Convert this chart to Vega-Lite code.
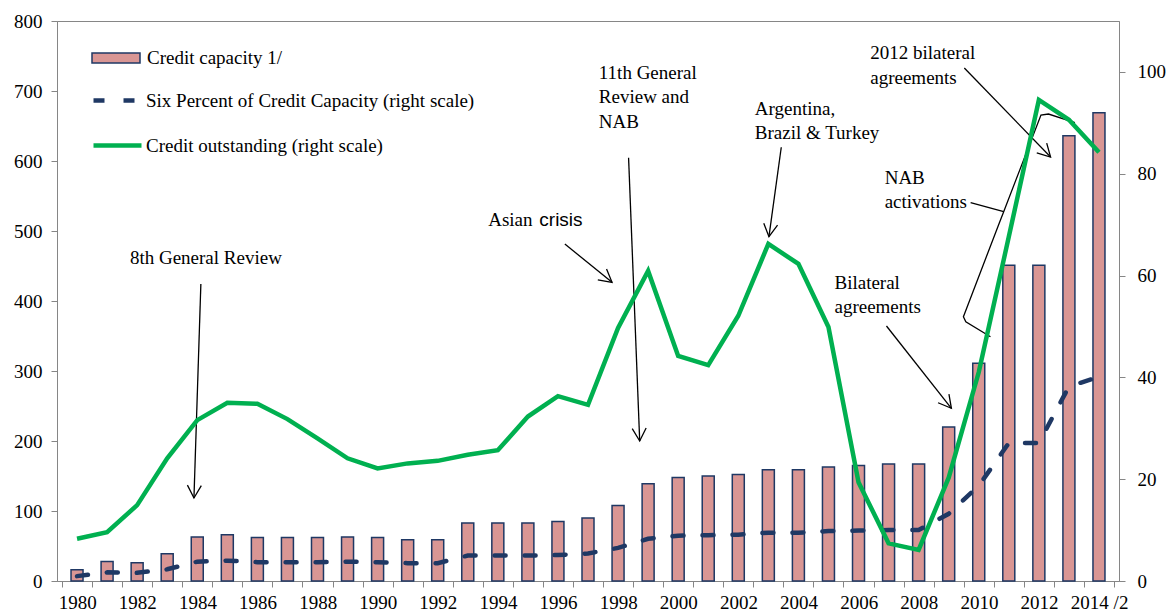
{
  "$schema": "https://vega.github.io/schema/vega-lite/v6.json",
  "width": 1062,
  "height": 560,
  "autosize": {"type": "none"},
  "padding": {"left": 57, "top": 21, "right": 49, "bottom": 35},
  "background": "white",
  "config": {
    "view": {"stroke": "#868686", "strokeWidth": 1},
    "font": "Liberation Serif",
    "axis": {
      "domainColor": "#868686",
      "tickColor": "#868686",
      "labelColor": "#000000",
      "labelFont": "Liberation Serif",
      "labelFontSize": 19,
      "tickSize": 6,
      "grid": false,
      "title": null
    },
    "legend": {
      "padding": 0,
      "symbolSize": 400,
      "labelFont": "Liberation Serif",
      "labelFontSize": 19,
      "labelColor": "#000000",
      "labelLimit": 600,
      "labelOffset": 20,
      "labelBaseline": "middle",
      "symbolOpacity": 1
    }
  },
  "data": {
    "values": [
      {"year": 1980, "capacity": 16, "six": 0.96, "outstanding": 8.3},
      {"year": 1981, "capacity": 28, "six": 1.7, "outstanding": 9.6},
      {"year": 1982, "capacity": 26, "six": 1.6, "outstanding": 14.9},
      {"year": 1983, "capacity": 39, "six": 2.3, "outstanding": 24.1},
      {"year": 1984, "capacity": 63, "six": 3.8, "outstanding": 31.6},
      {"year": 1985, "capacity": 66, "six": 4.0, "outstanding": 35.0},
      {"year": 1986, "capacity": 62, "six": 3.7, "outstanding": 34.8},
      {"year": 1987, "capacity": 62, "six": 3.7, "outstanding": 31.8},
      {"year": 1988, "capacity": 62, "six": 3.7, "outstanding": 28.0},
      {"year": 1989, "capacity": 63, "six": 3.8, "outstanding": 24.1},
      {"year": 1990, "capacity": 62, "six": 3.7, "outstanding": 22.1},
      {"year": 1991, "capacity": 59, "six": 3.5, "outstanding": 23.1},
      {"year": 1992, "capacity": 59, "six": 3.5, "outstanding": 23.6},
      {"year": 1993, "capacity": 83, "six": 5.0, "outstanding": 24.8},
      {"year": 1994, "capacity": 83, "six": 5.0, "outstanding": 25.7},
      {"year": 1995, "capacity": 83, "six": 5.0, "outstanding": 32.3},
      {"year": 1996, "capacity": 85, "six": 5.1, "outstanding": 36.3},
      {"year": 1997, "capacity": 90, "six": 5.4, "outstanding": 34.6},
      {"year": 1998, "capacity": 108, "six": 6.5, "outstanding": 49.7},
      {"year": 1999, "capacity": 139, "six": 8.3, "outstanding": 60.9},
      {"year": 2000, "capacity": 148, "six": 8.9, "outstanding": 44.2},
      {"year": 2001, "capacity": 150, "six": 9.0, "outstanding": 42.4},
      {"year": 2002, "capacity": 152, "six": 9.1, "outstanding": 52.1},
      {"year": 2003, "capacity": 159, "six": 9.5, "outstanding": 66.2},
      {"year": 2004, "capacity": 159, "six": 9.5, "outstanding": 62.3},
      {"year": 2005, "capacity": 163, "six": 9.8, "outstanding": 49.9},
      {"year": 2006, "capacity": 165, "six": 9.9, "outstanding": 19.4},
      {"year": 2007, "capacity": 167, "six": 10.0, "outstanding": 7.4},
      {"year": 2008, "capacity": 167, "six": 10.0, "outstanding": 6.1},
      {"year": 2009, "capacity": 220, "six": 13.2, "outstanding": 20.3},
      {"year": 2010, "capacity": 311, "six": 18.7, "outstanding": 41.0},
      {"year": 2011, "capacity": 451, "six": 27.1, "outstanding": 67.6},
      {"year": 2012, "capacity": 451, "six": 27.1, "outstanding": 94.5},
      {"year": 2013, "capacity": 636, "six": 38.2, "outstanding": 90.6},
      {"year": 2014, "capacity": 669, "six": 40.1, "outstanding": 84.2}
    ]
  },
  "encoding": {
    "x": {
      "field": "year",
      "type": "quantitative",
      "title": null,
      "scale": {"domain": [1979.5, 2014.5], "nice": false, "zero": false},
      "axis": {
        "values": [1979.5, 1980.5, 1981.5, 1982.5, 1983.5, 1984.5, 1985.5, 1986.5, 1987.5, 1988.5, 1989.5, 1990.5, 1991.5, 1992.5, 1993.5, 1994.5, 1995.5, 1996.5, 1997.5, 1998.5, 1999.5, 2000.5, 2001.5, 2002.5, 2003.5, 2004.5, 2005.5, 2006.5, 2007.5, 2008.5, 2009.5, 2010.5, 2011.5, 2012.5, 2013.5, 2014.5],
        "labelExpr": "(datum.value + 0.5) % 2 == 0 ? ((datum.value + 0.5) == 2014 ? '2014 /2' : '' + (datum.value + 0.5)) : ''",
        "labelOffset": 15.17,
        "labelPadding": 6,
        "labelFlush": false,
        "labelOverlap": false,
        "labelBound": false
      }
    }
  },
  "layer": [
    {
      "layer": [
        {
          "mark": {"type": "bar", "width": 12, "stroke": "#1F3864", "strokeWidth": 1.5},
          "encoding": {
            "y": {
              "field": "capacity",
              "type": "quantitative",
              "title": null,
              "scale": {"domain": [0, 800], "nice": false},
              "axis": {"values": [0, 100, 200, 300, 400, 500, 600, 700, 800], "labelPadding": 9}
            },
            "fill": {
              "datum": "Credit capacity 1/",
              "scale": {"range": ["#D99694"]},
              "legend": {
                "title": null,
                "orient": "none",
                "legendX": 48,
                "legendY": 26,
                "symbolType": "M-2.4,-0.5L2.4,-0.5L2.4,0.5L-2.4,0.5Z",
                "symbolStrokeColor": "#1F3864",
                "symbolStrokeWidth": 1.5
              }
            }
          }
        },
        {
          "data": {
            "values": [
              {"year": 1984.12, "value": 424.3, "year2": 1983.89, "value2": 118.6},
              {"year": 1996.23, "value": 481.4, "year2": 1997.8, "value2": 426.7},
              {"year": 1998.35, "value": 604.7, "year2": 1998.72, "value2": 200},
              {"year": 2003.43, "value": 619.6, "year2": 2003.02, "value2": 491.9},
              {"year": 2009.52, "value": 732.9, "year2": 2012.39, "value2": 605.7},
              {"year": 2006.93, "value": 364.3, "year2": 2009.09, "value2": 246.7}
            ]
          },
          "mark": {"type": "rule", "color": "#000000", "strokeWidth": 1.3},
          "encoding": {
            "y": {"field": "value", "type": "quantitative", "title": null},
            "x2": {"field": "year2"},
            "y2": {"field": "value2"}
          }
        },
        {
          "data": {
            "values": [
              {"part": "brace", "i": 1, "year": 2013.2, "value": 654.7},
              {"part": "brace", "i": 2, "year": 2012.32, "value": 667.1},
              {"part": "brace", "i": 3, "year": 2012.07, "value": 665.7},
              {"part": "brace", "i": 4, "year": 2010.83, "value": 527.6},
              {"part": "brace", "i": 5, "year": 2010.7, "value": 513.3},
              {"part": "brace", "i": 6, "year": 2009.49, "value": 377.6},
              {"part": "brace", "i": 7, "year": 2009.57, "value": 370.4},
              {"part": "brace", "i": 8, "year": 2010.39, "value": 349.0},
              {"part": "link", "i": 1, "year": 2009.73, "value": 540.4},
              {"part": "link", "i": 2, "year": 2010.83, "value": 527.6}
            ]
          },
          "mark": {"type": "line", "color": "#000000", "strokeWidth": 1.3},
          "encoding": {
            "y": {"field": "value", "type": "quantitative", "title": null},
            "detail": {"field": "part"},
            "order": {"field": "i"}
          }
        },
        {
          "data": {"values": [{"year": 1983.89, "value": 118.6}]},
          "mark": {"type": "point", "shape": "M-1,-0.55L0,0L-1,0.55", "filled": false, "size": 640, "stroke": "#000000", "strokeWidth": 1.3, "opacity": 1, "angle": 91.9},
          "encoding": {"y": {"field": "value", "type": "quantitative", "title": null}}
        },
        {
          "data": {"values": [{"year": 1997.8, "value": 426.7}]},
          "mark": {"type": "point", "shape": "M-1,-0.55L0,0L-1,0.55", "filled": false, "size": 640, "stroke": "#000000", "strokeWidth": 1.3, "opacity": 1, "angle": 38.8},
          "encoding": {"y": {"field": "value", "type": "quantitative", "title": null}}
        },
        {
          "data": {"values": [{"year": 1998.72, "value": 200}]},
          "mark": {"type": "point", "shape": "M-1,-0.55L0,0L-1,0.55", "filled": false, "size": 640, "stroke": "#000000", "strokeWidth": 1.3, "opacity": 1, "angle": 87.7},
          "encoding": {"y": {"field": "value", "type": "quantitative", "title": null}}
        },
        {
          "data": {"values": [{"year": 2003.02, "value": 491.9}]},
          "mark": {"type": "point", "shape": "M-1,-0.55L0,0L-1,0.55", "filled": false, "size": 640, "stroke": "#000000", "strokeWidth": 1.3, "opacity": 1, "angle": 97.8},
          "encoding": {"y": {"field": "value", "type": "quantitative", "title": null}}
        },
        {
          "data": {"values": [{"year": 2012.39, "value": 605.7}]},
          "mark": {"type": "point", "shape": "M-1,-0.55L0,0L-1,0.55", "filled": false, "size": 640, "stroke": "#000000", "strokeWidth": 1.3, "opacity": 1, "angle": 45.6},
          "encoding": {"y": {"field": "value", "type": "quantitative", "title": null}}
        },
        {
          "data": {"values": [{"year": 2009.09, "value": 246.7}]},
          "mark": {"type": "point", "shape": "M-1,-0.55L0,0L-1,0.55", "filled": false, "size": 640, "stroke": "#000000", "strokeWidth": 1.3, "opacity": 1, "angle": 51.4},
          "encoding": {"y": {"field": "value", "type": "quantitative", "title": null}}
        },
        {
          "data": {
            "values": [
              {"year": 1981.76, "value": 474.7, "label": "8th General Review"},
              {"year": 1993.68, "value": 528.1, "label": "Asian"},
              {"year": 1997.36, "value": 739.0, "label": "11th General\nReview and\nNAB"},
              {"year": 2002.55, "value": 687.8, "label": "Argentina,\nBrazil & Turkey"},
              {"year": 2006.39, "value": 767.1, "label": "2012 bilateral\nagreements"},
              {"year": 2006.87, "value": 589.0, "label": "NAB\nactivations"},
              {"year": 2005.2, "value": 439.0, "label": "Bilateral\nagreements"}
            ]
          },
          "mark": {"type": "text", "align": "left", "baseline": "top", "font": "Liberation Serif", "fontSize": 19, "lineHeight": 24.5, "lineBreak": "\n", "color": "#000000"},
          "encoding": {
            "y": {"field": "value", "type": "quantitative", "title": null},
            "text": {"field": "label"}
          }
        },
        {
          "data": {"values": [{"year": 1995.38, "value": 528.1, "label": "crisis"}]},
          "mark": {"type": "text", "align": "left", "baseline": "top", "font": "Liberation Sans", "fontSize": 19, "color": "#000000"},
          "encoding": {
            "y": {"field": "value", "type": "quantitative", "title": null},
            "text": {"field": "label"}
          }
        }
      ]
    },
    {
      "layer": [
        {
          "mark": {"type": "line", "strokeWidth": 4.5, "stroke": "#1F3864", "strokeCap": "round"},
          "encoding": {
            "y": {
              "field": "six",
              "type": "quantitative",
              "title": null,
              "scale": {"domain": [0, 110], "nice": false},
              "axis": {"orient": "right", "values": [0, 20, 40, 60, 80, 100], "labelPadding": 12}
            },
            "strokeDash": {
              "datum": "Six Percent of Credit Capacity (right scale)",
              "scale": {"range": [[11, 19]]},
              "legend": {
                "title": null,
                "orient": "none",
                "legendX": 48,
                "legendY": 67,
                "labelOffset": 16,
                "symbolType": "M-2.4,0L2.4,0",
                "symbolStrokeColor": "#1F3864",
                "symbolStrokeWidth": 4.5
              }
            }
          }
        },
        {
          "mark": {"type": "line", "strokeWidth": 4.5},
          "encoding": {
            "y": {"field": "outstanding", "type": "quantitative", "title": null},
            "stroke": {
              "datum": "Credit outstanding (right scale)",
              "scale": {"range": ["#00B050"]},
              "legend": {
                "title": null,
                "orient": "none",
                "legendX": 48,
                "legendY": 112,
                "labelOffset": 16,
                "symbolType": "M-2.4,0L2.4,0",
                "symbolStrokeWidth": 4.5
              }
            }
          }
        }
      ]
    }
  ],
  "resolve": {"scale": {"y": "independent"}}
}
